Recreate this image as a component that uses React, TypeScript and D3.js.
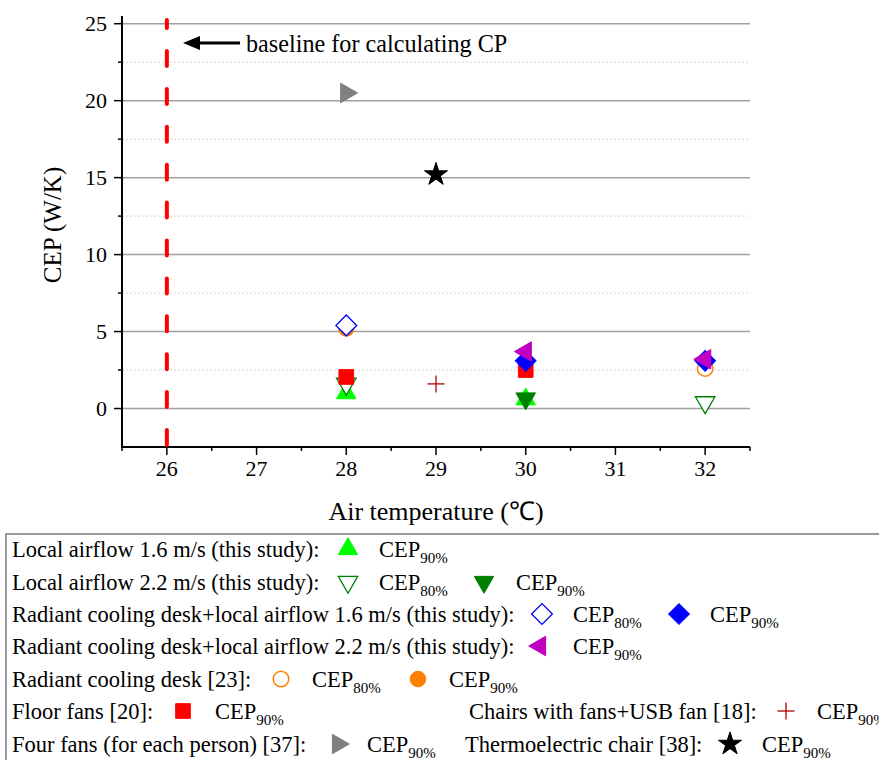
import React from "react";
import * as d3 from "d3";

// ---------- data ----------
const xTicks = [26, 27, 28, 29, 30, 31, 32];
const yTicks = [0, 5, 10, 15, 20, 25];
const yMinor = [2.5, 7.5, 12.5, 17.5, 22.5];
const baselineTemp = 26;

// [air temperature, CEP]
const localAir16_cep90: [number, number][] = [[28, 1.0], [30, 0.6]];
const localAir22_cep80: [number, number][] = [[28, 1.6], [32, 0.4]];
const localAir22_cep90: [number, number][] = [[30, 0.65]];
const radDesk16_cep80: [number, number][] = [[28, 5.4]];
const radDesk16_cep90: [number, number][] = [[30, 3.1], [32, 3.1]];
const radDesk22_cep90: [number, number][] = [[30, 3.7], [32, 3.2]];
const radDesk_cep80: [number, number][] = [[32, 2.6]];
const radDesk_cep90: [number, number][] = [[28, 5.2]];
const floorFans_cep90: [number, number][] = [[28, 2.05], [30, 2.5]];
const chairsUsb_cep90: [number, number][] = [[29, 1.6]];
const fourFans_cep90: [number, number][] = [[28, 20.5]];
const thermoChair_cep90: [number, number][] = [[29, 15.2]];

// ---------- layout ----------
const W = 879, H = 760;
const X0 = 122, X1 = 750, Y0 = 447, Y1 = 16;
const x = d3.scaleLinear().domain([25.5, 32.5]).range([X0, X1]);
const y = d3.scaleLinear().domain([-2.5, 25.5]).range([Y0, Y1]);
const FONT = "'Liberation Serif', 'Times New Roman', serif";

type MarkerKind = "triUp" | "triDown" | "triLeft" | "triRight" | "diamond" | "circle" | "square" | "star" | "plus";
interface Style { kind: MarkerKind; fill: string; stroke: string; sw: number; }

const S = {
  lime: { kind: "triUp", fill: "#00ff00", stroke: "#00ff00", sw: 1 } as Style,
  openDown: { kind: "triDown", fill: "white", stroke: "#008000", sw: 1.3 } as Style,
  darkDown: { kind: "triDown", fill: "#008000", stroke: "#008000", sw: 1 } as Style,
  openDiamond: { kind: "diamond", fill: "white", stroke: "#0000ff", sw: 1.3 } as Style,
  blueDiamond: { kind: "diamond", fill: "#0000ff", stroke: "#0000ff", sw: 1 } as Style,
  magenta: { kind: "triLeft", fill: "#c000c0", stroke: "#c000c0", sw: 1 } as Style,
  openCircle: { kind: "circle", fill: "white", stroke: "#ff8000", sw: 1.5 } as Style,
  orangeCircle: { kind: "circle", fill: "#ff8000", stroke: "#ff8000", sw: 1 } as Style,
  redSquare: { kind: "square", fill: "#ff0000", stroke: "#ff0000", sw: 1 } as Style,
  plus: { kind: "plus", fill: "none", stroke: "#b00000", sw: 1.3 } as Style,
  gray: { kind: "triRight", fill: "#808080", stroke: "#808080", sw: 1 } as Style,
  star: { kind: "star", fill: "black", stroke: "black", sw: 1 } as Style,
};

function Marker({ cx, cy, st }: { cx: number; cy: number; st: Style }) {
  const t = `translate(${cx},${cy})`;
  if (st.kind === "plus") {
    return (
      <g transform={t} stroke={st.stroke} strokeWidth={st.sw}>
        <line x1={-8.5} x2={8.5} y1={0} y2={0} />
        <line x1={0} x2={0} y1={-8.5} y2={8.5} />
      </g>
    );
  }
  let path = "";
  let rot = 0;
  switch (st.kind) {
    case "triUp": path = d3.symbol(d3.symbolTriangle, 165)()!; break;
    case "triDown": path = d3.symbol(d3.symbolTriangle, 165)()!; rot = 180; break;
    case "triLeft": path = d3.symbol(d3.symbolTriangle, 165)()!; rot = -90; break;
    case "triRight": path = d3.symbol(d3.symbolTriangle, 165)()!; rot = 90; break;
    case "diamond": path = d3.symbol(d3.symbolSquare, 215)()!; rot = 45; break;
    case "circle": path = d3.symbol(d3.symbolCircle, 190)()!; break;
    case "square": path = d3.symbol(d3.symbolSquare, 215)()!; break;
    case "star": path = d3.symbol(d3.symbolStar, 165)()!; break;
  }
  return <path d={path} transform={`${t} rotate(${rot})`} fill={st.fill} stroke={st.stroke} strokeWidth={st.sw} />;
}

const drawOrder: [[number, number][], Style][] = [
  [localAir16_cep90, S.lime],
  [localAir22_cep80, S.openDown],
  [localAir22_cep90, S.darkDown],
  [radDesk_cep80, S.openCircle],
  [radDesk_cep90, S.orangeCircle],
  [floorFans_cep90, S.redSquare],
  [radDesk16_cep80, S.openDiamond],
  [radDesk16_cep90, S.blueDiamond],
  [radDesk22_cep90, S.magenta],
  [chairsUsb_cep90, S.plus],
  [fourFans_cep90, S.gray],
  [thermoChair_cep90, S.star],
];

interface LegItem { st: Style; mx: number; tx: number; sub: string; }
interface LegText { text: string; x: number; }
const rowY = [557, 590, 622, 654, 687, 719, 752];
const legendLabels: LegText[][] = [
  [{ text: "Local airflow 1.6 m/s (this study):", x: 12 }],
  [{ text: "Local airflow 2.2 m/s (this study):", x: 12 }],
  [{ text: "Radiant cooling desk+local airflow 1.6 m/s (this study):", x: 12 }],
  [{ text: "Radiant cooling desk+local airflow 2.2 m/s (this study):", x: 12 }],
  [{ text: "Radiant cooling desk [23]:", x: 12 }],
  [{ text: "Floor fans [20]:", x: 12 }, { text: "Chairs with fans+USB fan [18]:", x: 469 }],
  [{ text: "Four fans (for each person) [37]:", x: 12 }, { text: "Thermoelectric chair [38]:", x: 465 }],
];
const legendItems: LegItem[][] = [
  [{ st: S.lime, mx: 348, tx: 379, sub: "90%" }],
  [{ st: S.openDown, mx: 348, tx: 379, sub: "80%" }, { st: S.darkDown, mx: 484, tx: 516, sub: "90%" }],
  [{ st: S.openDiamond, mx: 542, tx: 573, sub: "80%" }, { st: S.blueDiamond, mx: 679, tx: 710, sub: "90%" }],
  [{ st: S.magenta, mx: 540, tx: 573, sub: "90%" }],
  [{ st: S.openCircle, mx: 281, tx: 312, sub: "80%" }, { st: S.orangeCircle, mx: 418, tx: 449, sub: "90%" }],
  [{ st: S.redSquare, mx: 183, tx: 215, sub: "90%" }, { st: S.plus, mx: 786, tx: 817, sub: "90%" }],
  [{ st: S.gray, mx: 338, tx: 367, sub: "90%" }, { st: S.star, mx: 730, tx: 762, sub: "90%" }],
];

export default function App() {
  const xMinor = d3.range(25.5, 32.51, 1);
  return (
    <svg width={W} height={H} style={{ position: "absolute", left: 0, top: 0, background: "white" }} fontFamily={FONT}>
      <rect width={W} height={H} fill="white" />
      {/* grid */}
      {yMinor.map((v) => (
        <line key={"gm" + v} x1={X0} x2={X1} y1={y(v)} y2={y(v)} stroke="#d6d6d6" strokeWidth={1} strokeDasharray="2,2" />
      ))}
      {yTicks.map((v) => (
        <line key={"gM" + v} x1={X0} x2={X1} y1={y(v)} y2={y(v)} stroke="#a0a0a0" strokeWidth={1.5} />
      ))}
      {/* axes */}
      <line x1={X0} x2={X0} y1={Y1} y2={Y0 + 1} stroke="black" strokeWidth={2} />
      <line x1={X0 - 1} x2={X1} y1={Y0} y2={Y0} stroke="black" strokeWidth={2} />
      {yTicks.map((v) => (
        <g key={"yt" + v}>
          <line x1={X0 - 8} x2={X0} y1={y(v)} y2={y(v)} stroke="black" strokeWidth={1.5} />
          <text x={X0 - 15} y={y(v)} dy="0.35em" textAnchor="end" fontSize={22}>{v}</text>
        </g>
      ))}
      {yMinor.map((v) => (
        <line key={"ym" + v} x1={X0 - 4} x2={X0} y1={y(v)} y2={y(v)} stroke="black" strokeWidth={1.5} />
      ))}
      {xTicks.map((v) => (
        <g key={"xt" + v}>
          <line x1={x(v)} x2={x(v)} y1={Y0} y2={Y0 + 8} stroke="black" strokeWidth={1.5} />
          <text x={x(v)} y={Y0 + 29} textAnchor="middle" fontSize={22}>{v}</text>
        </g>
      ))}
      {xMinor.map((v) => (
        <line key={"xm" + v} x1={x(v)} x2={x(v)} y1={Y0} y2={Y0 + 4} stroke="black" strokeWidth={1.5} />
      ))}
      <text x={436} y={520} textAnchor="middle" fontSize={26}>Air temperature (℃)</text>
      <text transform={`translate(61,225) rotate(-90)`} textAnchor="middle" fontSize={25}>CEP (W/K)</text>
      {/* baseline */}
      <line x1={x(baselineTemp)} x2={x(baselineTemp)} y1={Y0 - 2} y2={20} stroke="#ff0000" strokeWidth={4}
        strokeLinecap="round" strokeDasharray="15,22.9" />
      <line x1={196} x2={240} y1={43} y2={43} stroke="black" strokeWidth={3} />
      <path d="M183,43 L200,36 L200,50 Z" fill="black" />
      <text x={246} y={52} fontSize={24.2}>baseline for calculating CP</text>
      {/* points */}
      {drawOrder.map(([pts, st], i) => (
        <g key={"s" + i}>
          {pts.map((p, j) => <Marker key={j} cx={x(p[0])} cy={y(p[1])} st={st} />)}
        </g>
      ))}
      {/* legend */}
      <rect x={6} y={534} width={W + 10} height={H} fill="white" stroke="#7a7a7a" strokeWidth={1.5} />
      {legendLabels.map((row, r) =>
        row.map((lt, k) => (
          <text key={`lt${r}-${k}`} x={lt.x} y={rowY[r]} fontSize={22.5}>{lt.text}</text>
        ))
      )}
      {legendItems.map((row, r) =>
        row.map((it, k) => (
          <g key={`li${r}-${k}`}>
            <Marker cx={it.mx} cy={rowY[r] - 8} st={it.st} />
            <text x={it.tx} y={rowY[r]} fontSize={22.5}>
              CEP<tspan dy={6} fontSize={15}>{it.sub}</tspan>
            </text>
          </g>
        ))
      )}
    </svg>
  );
}
